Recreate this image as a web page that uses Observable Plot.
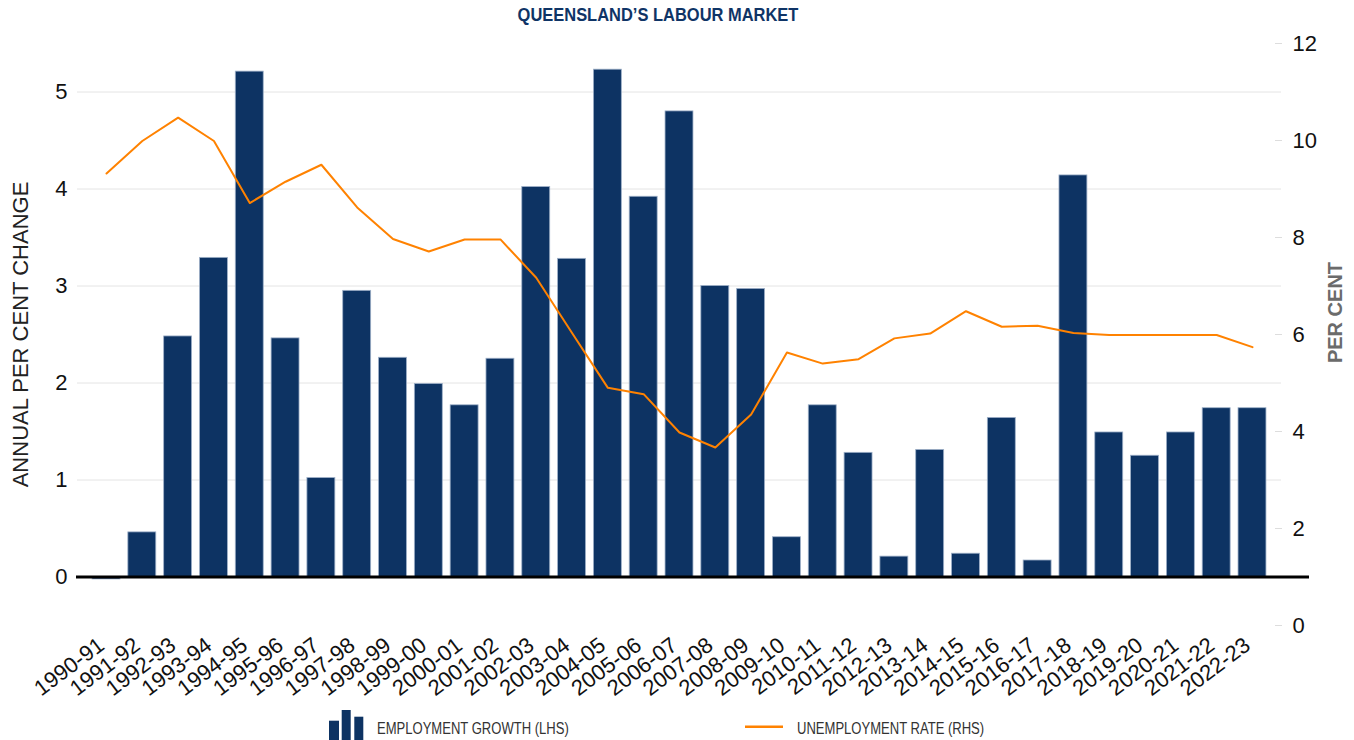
<!DOCTYPE html>
<html>
<head>
<meta charset="utf-8">
<script src="https://cdn.jsdelivr.net/npm/d3@7"></script>
<script src="https://cdn.jsdelivr.net/npm/@observablehq/plot@0.6"></script>
<style>
  html, body { margin: 0; padding: 0; background: #fff; }
  body { width: 1354px; height: 740px; position: relative; font-family: "Liberation Sans", Arial, sans-serif; overflow: hidden; }
  #title { position: relative; height: 30px; }
  #title span { position: absolute; left: 658px; top: 15px; transform: translate(-50%, -50%) scaleX(0.89); white-space: nowrap;
    font-family: "Liberation Sans", Arial, sans-serif; font-weight: bold;
    font-size: 18.5px; color: #0f3466; }
  #chart svg { display: block; }
  #legend { position: relative; height: 34px; }
  .lg { position: absolute; top: 0; height: 34px; }
  .lgtext { position: absolute; white-space: nowrap; font-family: "Liberation Sans", Arial, sans-serif;
    font-size: 16px; color: #333; top: 14px; transform: scaleX(0.815); transform-origin: left center; }
</style>
</head>
<body>
<div id="title"><span>QUEENSLAND’S LABOUR MARKET</span></div>
<div id="chart"></div>
<div id="legend">
  <svg class="lg" style="left:329px" width="36" height="34">
    <rect x="0" y="14.7" width="10" height="19.3" fill="#0d3363"></rect>
    <rect x="12.7" y="4" width="9" height="30" fill="#0d3363"></rect>
    <rect x="25.3" y="10.7" width="9" height="23.3" fill="#0d3363"></rect>
  </svg>
  <div class="lgtext" style="left:377px">EMPLOYMENT GROWTH (LHS)</div>
  <svg class="lg" style="left:745px" width="40" height="34">
    <line x1="0" x2="38" y1="20.7" y2="20.7" stroke="#ff8200" stroke-width="2.5"></line>
  </svg>
  <div class="lgtext" style="left:797px">UNEMPLOYMENT RATE (RHS)</div>
</div>
<script>
const years = ["1990-91","1991-92","1992-93","1993-94","1994-95","1995-96","1996-97","1997-98","1998-99","1999-00",
  "2000-01","2001-02","2002-03","2003-04","2004-05","2005-06","2006-07","2007-08","2008-09","2009-10",
  "2010-11","2011-12","2012-13","2013-14","2014-15","2015-16","2016-17","2017-18","2018-19","2019-20",
  "2020-21","2021-22","2022-23"];
const employmentGrowth = [-0.025, 0.46, 2.48, 3.29, 5.21, 2.46, 1.02, 2.95, 2.26, 1.99,
  1.77, 2.25, 4.02, 3.28, 5.23, 3.92, 4.80, 3.00, 2.97, 0.41,
  1.77, 1.28, 0.21, 1.31, 0.24, 1.64, 0.17, 4.14, 1.49, 1.25,
  1.49, 1.74, 1.74];
const unemploymentRate = [9.32, 9.99, 10.47, 9.99, 8.71, 9.15, 9.50, 8.62, 7.97, 7.71,
  7.96, 7.96, 7.17, 6.03, 4.90, 4.77, 3.98, 3.67, 4.35, 5.63,
  5.40, 5.49, 5.92, 6.02, 6.48, 6.16, 6.18, 6.03, 5.99, 5.99,
  5.99, 5.99, 5.74];
const leftTicks = [0, 1, 2, 3, 4, 5];
const gridTicks = [1, 2, 3, 4, 5];
const rightTicks = [0, 2, 4, 6, 8, 10, 12];
const leftDomain = [-0.5, 5.5];
const rightDomain = [0, 12];
const leftTitle = "ANNUAL PER CENT CHANGE";
const rightTitle = "PER CENT";

// map right-axis values onto the left scale
const toLeft = v => leftDomain[0] + (v - rightDomain[0]) * (leftDomain[1] - leftDomain[0]) / (rightDomain[1] - rightDomain[0]);
const toRight = v => rightDomain[0] + (v - leftDomain[0]) * (rightDomain[1] - rightDomain[0]) / (leftDomain[1] - leftDomain[0]);

const data = years.map((year, i) => ({year, growth: employmentGrowth[i], rate: unemploymentRate[i]}));

const chart = Plot.plot({
  width: 1354,
  height: 676,
  marginTop: 13,
  marginBottom: 81,
  marginLeft: 77,
  marginRight: 73,
  style: {fontFamily: "'Liberation Sans', Arial, sans-serif", background: "#fff", color: "#111"},
  x: {domain: years, paddingInner: 0.22, paddingOuter: 0.42, round: false, label: null},
  y: {domain: leftDomain, label: null},
  marks: [
    Plot.ruleY(gridTicks, {stroke: "#e4e4e4", strokeWidth: 1}),
    Plot.barY(data, {x: "year", y: "growth", fill: "#0d3363", stroke: "#9eb0c8", strokeWidth: 0.8}),
    Plot.ruleY([0], {stroke: "#000", strokeWidth: 3, insetLeft: -1, insetRight: -28}),
    Plot.line(data, {x: "year", y: d => toLeft(d.rate), stroke: "#ff8200", strokeWidth: 2}),
    Plot.axisY(leftTicks, {anchor: "left", tickSize: 0, tickPadding: 10, fontSize: 22, tickFormat: d => String(d), label: null}),
    Plot.axisY(rightTicks.map(toLeft), {anchor: "right", tickSize: 7, dx: -7, tickPadding: 11, stroke: "#dddddd",
      fontSize: 22, tickFormat: v => String(Math.round(toRight(v))), label: null}),
    Plot.text([leftTitle], {frameAnchor: "left", textAnchor: "middle", dx: -57, dy: 0, rotate: -90, fontSize: 22, fill: "#222"}),
    Plot.text([rightTitle], {frameAnchor: "right", textAnchor: "middle", dx: 54, dy: -22, rotate: -90, fontSize: 20, fontWeight: "bold", fill: "#6b6b6b"}),
    Plot.axisX({anchor: "bottom", tickSize: 0, tickPadding: 17, dx: -5, tickRotate: -37, fontSize: 22, label: null})
  ]
});
document.getElementById("chart").appendChild(chart);
</script>
</body>
</html>
